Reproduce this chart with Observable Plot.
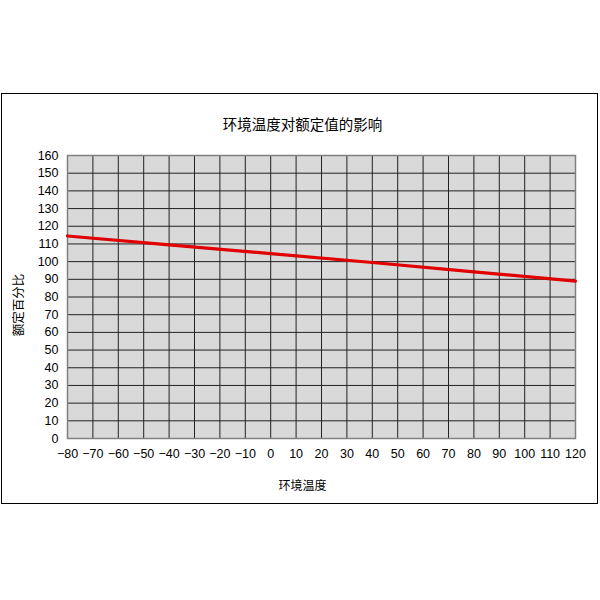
<!DOCTYPE html>
<html>
<head>
<meta charset="utf-8">
<script src="https://cdn.jsdelivr.net/npm/d3@7"></script>
<script src="https://cdn.jsdelivr.net/npm/@observablehq/plot@0.6"></script>
<style>
  html, body { margin: 0; padding: 0; background: #fff; }
  #wrap { position: relative; width: 600px; height: 600px; }
  #box { position: absolute; left: 1px; top: 93px; width: 595px; height: 409px; border: 1px solid #000; pointer-events: none; }
</style>
</head>
<body>
<div id="wrap"><div id="box"></div></div>
<script>
const title = "环境温度对额定值的影响";
const xLabel = "环境温度";
const yLabel = "额定百分比";
const temps = [-80, -40, 0, 40, 80, 120];
const ratings = [114.5, 109.5, 104.5, 99.5, 94.2, 89];
const xTicks = [-80,-70,-60,-50,-40,-30,-20,-10,0,10,20,30,40,50,60,70,80,90,100,110,120];
const yTicks = [0,10,20,30,40,50,60,70,80,90,100,110,120,130,140,150,160];

const data = temps.map((t, i) => ({t, v: ratings[i]}));
const cjk = "'Noto Sans CJK SC', sans-serif";

const chart = Plot.plot({
  width: 600,
  height: 600,
  marginLeft: 67,
  marginRight: 25,
  marginTop: 155,
  marginBottom: 162,
  style: {fontFamily: "'Liberation Sans', Arial, sans-serif", fontSize: "12.5px", color: "#000", background: "transparent"},
  x: {domain: [-80, 120]},
  y: {domain: [0, 160]},
  marks: [
    Plot.frame({fill: "#d9d9d9", stroke: null}),
    Plot.gridX(xTicks, {stroke: "#222", strokeOpacity: 1, strokeWidth: 1}),
    Plot.gridY(yTicks, {stroke: "#222", strokeOpacity: 1, strokeWidth: 1}),
    Plot.frame({stroke: "#808080", strokeWidth: 1.5}),
    Plot.axisX({ticks: xTicks, tickSize: 0, tickPadding: 11, label: null, fontSize: 12.5}),
    Plot.axisY({ticks: yTicks, tickSize: 0, tickPadding: 9, label: null, fontSize: 12.5}),
    Plot.line(data, {x: "t", y: "v", stroke: "#e00000", strokeWidth: 3.2}),
    Plot.text([title], {frameAnchor: "top", dx: -19, dy: -36, fontSize: 14.5, fontFamily: cjk, fill: "#000"}),
    Plot.text([xLabel], {frameAnchor: "bottom", dx: -19, dy: 51, fontSize: 12, fontFamily: cjk, fill: "#000"}),
    Plot.text([yLabel], {frameAnchor: "left", textAnchor: "middle", dx: -49, dy: 8, rotate: -90, fontSize: 12.5, fontFamily: cjk, fill: "#000"})
  ]
});
chart.style.position = "absolute";
chart.style.left = "0px";
chart.style.top = "0px";
document.getElementById("wrap").appendChild(chart);
</script>
</body>
</html>
